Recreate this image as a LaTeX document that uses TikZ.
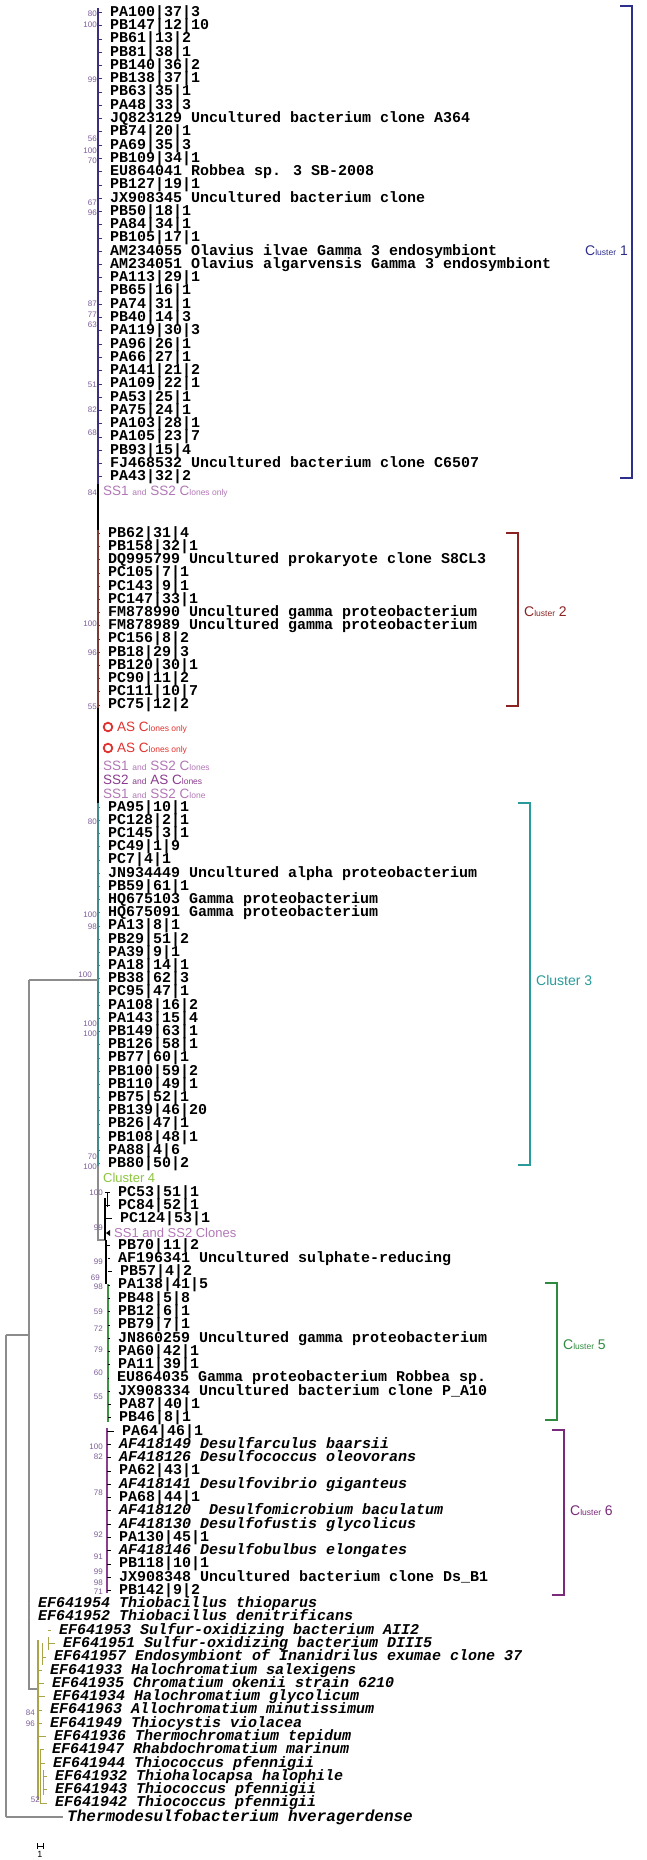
\documentclass[tikz,border=0pt]{standalone}
\usepackage{fontspec}
\setmainfont{Liberation Sans}
\newfontfamily\monof{Liberation Mono}
\usetikzlibrary{positioning}

\definecolor{cOne}{HTML}{3B2F7F}
\definecolor{cTwo}{HTML}{7A3B33}
\definecolor{cThree}{HTML}{3E8C8C}
\definecolor{cFour}{HTML}{8DC63F}
\definecolor{cFive}{HTML}{3A9440}
\definecolor{cSix}{HTML}{8A3C8E}
\definecolor{cOlive}{HTML}{A9A448}
\definecolor{cGrey}{HTML}{8C8C8C}
\definecolor{cBoot}{HTML}{7D5D9A}
\definecolor{cPink}{HTML}{B277B6}
\definecolor{cRed}{HTML}{E0322E}
\definecolor{bOne}{HTML}{2E2E8C}
\definecolor{bTwo}{HTML}{8B2323}
\definecolor{bThree}{HTML}{2A9A9A}
\definecolor{bFive}{HTML}{2E8B3E}
\definecolor{bSix}{HTML}{7A2A7A}

\newcommand{\lowtxt}[1]{{\fontsize{8.5}{8.5}\selectfont #1}}

\begin{document}
\begin{tikzpicture}[x=1pt, y=-1pt,
    leaf/.style={anchor=west, inner xsep=8pt, inner ysep=0pt,
      text height=10pt, text depth=2pt,
      font=\monof\bfseries\fontsize{15}{15}\selectfont},
    boot/.style={anchor=east, inner sep=0pt, text=cBoot,
      font=\fontsize{8}{8}\selectfont},
    note/.style={anchor=west, inner sep=0pt, text height=9pt, text depth=1pt,
      font=\fontsize{13.5}{13.5}\selectfont},
    branch/.style={line width=1.1pt},
    tick/.style={line width=0.6pt},
    bracket/.style={line width=1.3pt},
    clabel/.style={inner sep=0pt, font=\fontsize{14}{14}\selectfont}
]
\useasboundingbox (0,0) rectangle (646,1860);

% cluster 1
\draw[branch, cOne] (98,8) -- (98,484);
\foreach \lab [count=\i from 0] in {PA100|37|3, PB147|12|10, PB61|13|2,
    PB81|38|1, PB140|36|2, PB138|37|1, PB63|35|1, PA48|33|3,
    JQ823129 Uncultured bacterium clone A364, PB74|20|1, PA69|35|3,
    PB109|34|1, EU864041 Robbea sp. 3 SB-2008, PB127|19|1,
    JX908345 Uncultured bacterium clone, PB50|18|1, PA84|34|1, PB105|17|1,
    AM234055 Olavius ilvae Gamma 3 endosymbiont,
    AM234051 Olavius algarvensis Gamma 3 endosymbiont, PA113|29|1,
    PB65|16|1, PA74|31|1, PB40|14|3, PA119|30|3, PA96|26|1, PA66|27|1,
    PA141|21|2, PA109|22|1, PA53|25|1, PA75|24|1, PA103|28|1, PA105|23|7,
    PB93|15|4, FJ468532 Uncultured bacterium clone C6507, PA43|32|2}{
  \pgfmathsetmacro\yy{12.3+13.27*\i}
  \node[leaf] (a\i) at (102,\yy) {\lab};
  \draw[tick, cOne] (98,\yy) -- (a\i.west);
}
\draw[branch, black] (98,484) -- (98,530);
\node[note, text=cPink] (ssa) at (103,491) {SS1 \lowtxt{and} SS2 C\lowtxt{lones only}};

% cluster 2
\draw[branch, cTwo] (98,530) -- (98,708);
\foreach \lab [count=\i from 0] in {PB62|31|4, PB158|32|1,
    DQ995799 Uncultured prokaryote clone S8CL3, PC105|7|1, PC143|9|1,
    PC147|33|1, FM878990 Uncultured gamma proteobacterium,
    FM878989 Uncultured gamma proteobacterium, PC156|8|2, PB18|29|3,
    PB120|30|1, PC90|11|2, PC111|10|7, PC75|12|2}{
  \pgfmathsetmacro\yy{533.3+13.2*\i}
  \node[leaf] (b\i) at (100,\yy) {\lab};
  \draw[tick, cTwo] (98,\yy) -- (b\i.west);
}

% collapsed groups
\draw[branch, black] (98,708) -- (98,803);
\draw[cRed, line width=1.8pt] (108,727) circle (4.3);
\node[note, text=cRed] (asa) at (117,727) {AS C\lowtxt{lones only}};
\draw[cRed, line width=1.8pt] (108,748) circle (4.3);
\node[note, text=cRed] (asb) at (117,748) {AS C\lowtxt{lones only}};
\node[note, text=cPink] (ssb) at (103,766) {SS1 \lowtxt{and} SS2 C\lowtxt{lones}};
\node[note, text=cSix] (ssc) at (103,780.5) {SS2 \lowtxt{and} AS C\lowtxt{lones}};
\node[note, text=cPink] (ssd) at (103,794) {SS1 \lowtxt{and} SS2 C\lowtxt{lone}};

% cluster 3
\draw[branch, cThree] (98,803) -- (98,1166);
\foreach \lab [count=\i from 0] in {PA95|10|1, PC128|2|1, PC145|3|1,
    PC49|1|9, PC7|4|1, JN934449 Uncultured alpha proteobacterium,
    PB59|61|1, HQ675103 Gamma proteobacterium, HQ675091 Gamma proteobacterium,
    PA13|8|1, PB29|51|2, PA39|9|1, PA18|14|1, PB38|62|3, PC95|47|1,
    PA108|16|2, PA143|15|4, PB149|63|1, PB126|58|1, PB77|60|1, PB100|59|2,
    PB110|49|1, PB75|52|1, PB139|46|20, PB26|47|1, PB108|48|1, PA88|4|6,
    PB80|50|2}{
  \pgfmathsetmacro\yy{807+13.2*\i}
  \node[leaf] (c\i) at (100,\yy) {\lab};
  \draw[tick, cThree] (98,\yy) -- (c\i.west);
}

% cluster 4 and lower part
\draw[branch, cGrey] (98,1166) -- (98,1240) -- (106,1240);
\node[note, text=cFour, font=\fontsize{13}{13}\selectfont] (kfour) at (103,1178) {Cluster 4};
\draw[branch, black] (105,1198) -- (105,1240);
\draw[tick, black] (107,1192) -- (107,1207);
\foreach \xx/\lab [count=\i from 0] in {118/PC53|51|1, 118/PC84|52|1, 120/PC124|53|1}{
  \pgfmathsetmacro\yy{1192+13.28*\i}
  \node[leaf] (d\i) at ({\xx-8},\yy) {\lab};
  \draw[tick, black] (105,\yy) -- (d\i.west);
}
\fill[black] (106,1233) -- (110,1230) -- (110,1236) -- cycle;
\node[note, text=cPink, font=\fontsize{13}{13}\selectfont] (sse) at (114,1233) {SS1 and SS2 Clones};

\draw[branch, black] (106,1240) -- (106,1284);
\draw[branch, cFive] (108,1284) -- (108,1422);
\draw[branch, cSix] (107,1428) -- (107,1593);
\foreach \xx/\sx/\lab [count=\i from 4] in {118/106/PB70|11|2,
    118/108/AF196341 Uncultured sulphate-reducing, 120/108/PB57|4|2,
    118/108/PA138|41|5, 118/108/PB48|5|8, 118/108/PB12|6|1, 118/108/PB79|7|1,
    118/108/JN860259 Uncultured gamma proteobacterium, 118/108/PA60|42|1,
    118/108/PA11|39|1, 117/108/EU864035 Gamma proteobacterium Robbea sp.,
    118/108/JX908334 Uncultured bacterium clone P\_A10, 119/108/PA87|40|1,
    119/108/PB46|8|1, 122/107/PA64|46|1,
    119/107/{\itshape AF418149 Desulfarculus baarsii},
    119/107/{\itshape AF418126 Desulfococcus oleovorans}, 119/107/PA62|43|1,
    119/107/{\itshape AF418141 Desulfovibrio giganteus}, 119/107/PA68|44|1,
    119/107/{\itshape AF418120\ \ Desulfomicrobium baculatum},
    119/107/{\itshape AF418130 Desulfofustis glycolicus}, 119/107/PA130|45|1,
    119/107/{\itshape AF418146 Desulfobulbus elongates}, 119/107/PB118|10|1,
    119/107/JX908348 Uncultured bacterium clone Ds\_B1, 119/107/PB142|9|2}{
  \pgfmathsetmacro\yy{1192+13.28*\i}
  \node[leaf] (e\i) at ({\xx-8},\yy) {\lab};
  \draw[tick, black] (\sx,\yy) -- (e\i.west);
}

% outgroups
\draw[branch, cGrey] (29,980) -- (98,980);
\draw[branch, cGrey] (29,980) -- (29,1689) -- (38,1689);
\draw[branch, cGrey] (6,1335) -- (29,1335);
\draw[branch, cGrey] (6,1335) -- (6,1817);
\draw[branch, cOlive] (38,1640) -- (38,1800);
\foreach \xx/\sx/\lab [count=\i from 31] in {38/29/EF641954 Thiobacillus thioparus,
    38/29/EF641952 Thiobacillus denitrificans,
    59/48/EF641953 Sulfur-oxidizing bacterium AII2,
    63/48/EF641951 Sulfur-oxidizing bacterium DIII5,
    54/42/EF641957 Endosymbiont of Inanidrilus exumae clone 37,
    50/38/EF641933 Halochromatium salexigens,
    52/38/EF641935 Chromatium okenii strain 6210,
    53/38/EF641934 Halochromatium glycolicum,
    50/38/EF641963 Allochromatium minutissimum,
    50/38/EF641949 Thiocystis violacea,
    54/38/EF641936 Thermochromatium tepidum,
    52/40/EF641947 Rhabdochromatium marinum,
    53/40/EF641944 Thiococcus pfennigii,
    55/43/EF641932 Thiohalocapsa halophile,
    55/43/EF641943 Thiococcus pfennigii,
    55/40/EF641942 Thiococcus pfennigii}{
  \pgfmathsetmacro\yy{1192+13.28*\i}
  \node[leaf, font=\monof\bfseries\itshape\fontsize{15}{15}\selectfont] (f\i) at ({\xx-8},\yy) {\lab};
  \draw[tick, cOlive] (\sx,\yy) -- (f\i.west);
}
\draw[tick, cOlive] (48,1637) -- (48,1650);
\draw[tick, cOlive] (42,1643) -- (42,1665);
\draw[tick, cOlive] (40,1750) -- (40,1803);
\draw[tick, cOlive] (43,1770) -- (43,1795);
\node[leaf, inner xsep=4pt, font=\monof\bfseries\itshape\fontsize{16}{16}\selectfont] (root) at (63,1817) {Thermodesulfobacterium hveragerdense};
\draw[branch, cGrey] (6,1817) -- (root.west);

% bootstrap values
\foreach \yy/\xx/\v [count=\k] in {14/97/80, 25/97/100, 80/97/99, 139/97/56,
    151/97/100, 161/97/70, 203/97/67, 213/97/96, 304/97/87, 315/97/77,
    325/97/63, 385/97/51, 410/97/82, 433/97/68, 493/97/84,
    624/97/100, 653/97/96, 707/97/55,
    822/97/80, 915/97/100, 927/97/98, 975/92/100, 1024/97/100, 1034/97/100,
    1157/97/70, 1167/97/100,
    1193/103/100, 1228/103/99, 1262/103/99, 1278/100/69, 1287/103/98,
    1312/103/59, 1329/103/72, 1350/103/79, 1373/103/60, 1397/103/55,
    1447/103/100, 1457/103/82, 1493/103/78, 1535/103/92, 1557/103/91,
    1572/103/99, 1583/103/98, 1592/103/71,
    1713/35/84, 1724/35/96, 1800/40/52}{
  \node[boot] (bt\k) at (\xx,\yy) {\v};
}

% cluster brackets
\draw[bracket, bOne] (620,6) -- (632,6) -- (632,478) -- (620,478);
\node[clabel, text=bOne, anchor=east] (kone) at (628,251) {C\lowtxt{luster} 1};
\draw[bracket, bTwo] (506,533) -- (518,533) -- (518,706) -- (506,706);
\node[clabel, text=bTwo, anchor=west] (ktwo) at (524,612) {C\lowtxt{luster} 2};
\draw[bracket, bThree] (518,803) -- (530,803) -- (530,1165) -- (518,1165);
\node[clabel, text=bThree, anchor=west] (kthree) at (536,980) {Cluster 3};
\draw[bracket, bFive] (545,1283) -- (557,1283) -- (557,1420) -- (545,1420);
\node[clabel, text=bFive, anchor=west] (kfive) at (563,1345) {C\lowtxt{luster} 5};
\draw[bracket, bSix] (552,1430) -- (564,1430) -- (564,1595) -- (552,1595);
\node[clabel, text=bSix, anchor=west] (ksix) at (570,1511) {C\lowtxt{luster} 6};

% scale bar
\draw[tick, black] (37,1846) -- (43,1846);
\draw[tick, black] (37,1843) -- (37,1849);
\draw[tick, black] (43,1843) -- (43,1849);
\node[inner sep=0pt, font=\fontsize{9}{9}\selectfont] (sbar) at (40,1854) {1};
\end{tikzpicture}
\end{document}
